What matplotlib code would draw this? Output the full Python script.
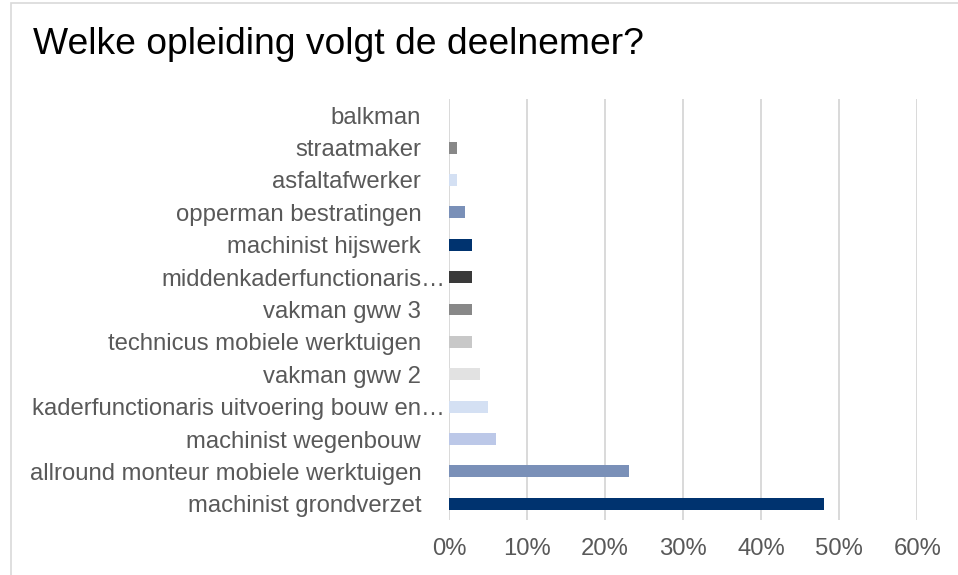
import matplotlib
matplotlib.use("Agg")
import matplotlib.pyplot as plt
import matplotlib.transforms as mtransforms
from matplotlib.patches import Rectangle
from matplotlib.ticker import PercentFormatter

# data, top to bottom as shown in the chart
categories = [
    "balkman",
    "straatmaker",
    "asfaltafwerker",
    "opperman bestratingen",
    "machinist hijswerk",
    "middenkaderfunctionaris…",
    "vakman gww 3",
    "technicus mobiele werktuigen",
    "vakman gww 2",
    "kaderfunctionaris uitvoering bouw en…",
    "machinist wegenbouw",
    "allround monteur mobiele werktuigen",
    "machinist grondverzet",
]
shares = [0, 1, 1, 2, 3, 3, 3, 3, 4, 5, 6, 23, 48]
colors = [
    "#888888", "#888888", "#D4E0F3", "#7A90B8", "#00336F", "#3A3A3A",
    "#888888", "#C8C8C8", "#E2E2E2", "#D4E0F3", "#BCC8E8", "#7A90B8", "#00336F",
]
xticks = [0, 10, 20, 30, 40, 50, 60]

text_col = "#595959"
plt.rcParams["font.family"] = ["Liberation Sans", "DejaVu Sans"]

fig = plt.figure(figsize=(9.58, 5.75), dpi=100)
ax = fig.add_axes([449 / 958, 1 - 520 / 575, (917.3 - 449) / 958, (520 - 99) / 575])

ypos = list(range(len(categories)))[::-1]
ax.barh(ypos, shares, height=0.37, color=colors, zorder=3)

ax.set_xlim(0, 60)
ax.set_ylim(-0.5, len(categories) - 0.5)
ax.set_xticks(xticks)
ax.xaxis.set_major_formatter(PercentFormatter(decimals=0))
ax.set_yticks(ypos)
ax.set_yticklabels(categories)
ax.tick_params(axis="y", length=0, pad=20, labelsize=17.2, labelcolor=text_col)
ax.tick_params(axis="x", length=0, pad=13, labelsize=17.2, labelcolor=text_col)
ax.grid(axis="x", color="#D9D9D9", lw=1.4, zorder=0)
for s in ax.spines.values():
    s.set_visible(False)

# truncated labels sit a little further right in the original
shift = mtransforms.ScaledTranslation(24 / 100, 0, fig.dpi_scale_trans)
for lbl in ax.get_yticklabels():
    if lbl.get_text().endswith("…"):
        lbl.set_transform(lbl.get_transform() + shift)

fig.text(33 / 958, 1 - 54 / 575, "Welke opleiding volgt de deelnemer?",
         fontsize=26.8, color="black", va="baseline", ha="left")

fig.patches.append(Rectangle((11 / 958, -0.05), 1.1, 1 - 3 / 575 + 0.05,
                             transform=fig.transFigure, fill=False,
                             edgecolor="#D9D9D9", lw=1.2))

fig.savefig("out.png", dpi=100)
